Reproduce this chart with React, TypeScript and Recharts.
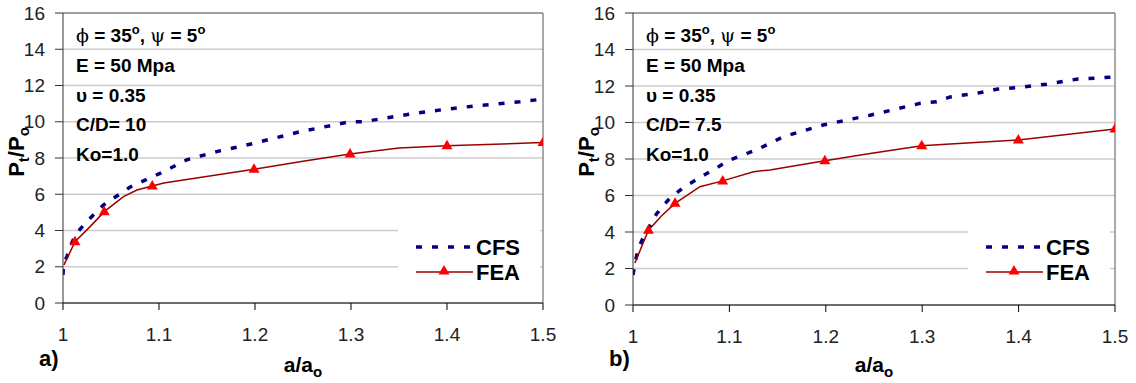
import React from "react";
import { LineChart, Line, XAxis, YAxis, CartesianGrid, ReferenceLine, Legend } from "recharts";

// x ticks (a/ao) and y ticks (Pt/Po)
const xTicks = [1, 1.1, 1.2, 1.3, 1.4, 1.5];
const yTicks = [0, 2, 4, 6, 8, 10, 12, 14, 16];

// panel a) C/D = 10
const cfsAX = [1.0, 1.0005, 1.004, 1.009, 1.014, 1.025, 1.042, 1.07, 1.101, 1.129, 1.16, 1.198, 1.247, 1.299, 1.313, 1.33, 1.365, 1.4, 1.434, 1.476, 1.5];
const cfsAY = [1.55, 2.2, 2.55, 3.3, 3.85, 4.5, 5.4, 6.4, 7.15, 7.9, 8.35, 8.8, 9.45, 10.0, 10.0, 10.15, 10.45, 10.7, 10.9, 11.1, 11.25];
const feaAX = [1.001, 1.0125, 1.028, 1.043, 1.063, 1.077, 1.093, 1.105, 1.199, 1.25, 1.299, 1.35, 1.4, 1.5];
const feaAY = [2.1, 3.38, 4.2, 5.04, 5.87, 6.23, 6.45, 6.62, 7.38, 7.82, 8.22, 8.55, 8.68, 8.85];
const feaAMarks = [1.0125, 1.043, 1.093, 1.199, 1.299, 1.4, 1.5];

// panel b) C/D = 7.5
const cfsBX = [1.0, 1.002, 1.0055, 1.011, 1.0245, 1.038, 1.054, 1.0765, 1.1006, 1.128, 1.156, 1.197, 1.246, 1.298, 1.315, 1.329, 1.3565, 1.377, 1.4015, 1.429, 1.46, 1.5];
const cfsBY = [1.64, 2.28, 3.1, 3.74, 5.0, 5.85, 6.5, 7.2, 7.95, 8.5, 9.22, 9.86, 10.4, 11.05, 11.14, 11.4, 11.6, 11.82, 11.93, 12.1, 12.37, 12.5];
const feaBX = [1.002, 1.016, 1.03, 1.0436, 1.0695, 1.093, 1.125, 1.142, 1.199, 1.246, 1.2995, 1.329, 1.3997, 1.5];
const feaBY = [2.3, 4.1, 4.9, 5.57, 6.48, 6.8, 7.3, 7.4, 7.9, 8.3, 8.73, 8.82, 9.04, 9.64];
const feaBMarks = [1.016, 1.0436, 1.093, 1.199, 1.2995, 1.3997, 1.5];

const zip = (xs: number[], ys: number[]) => xs.map((x, i) => ({ x, y: ys[i] }));

const FONT = "'Liberation Sans', Arial, sans-serif";
const NAVY = "#000080";
const DARKRED = "#990000";
const RED = "#ff0000";

const Triangle = ({ cx, cy, fill }: { cx: number; cy: number; fill: string }) => (
  <polygon points={`${cx},${cy - 6} ${cx - 5.5},${cy + 3.5} ${cx + 5.5},${cy + 3.5}`} fill={fill} />
);

const LegendBox = () => (
  <svg width={142} height={66}>
    <line x1={18} y1={21} x2={75} y2={21} stroke={NAVY} strokeWidth={3.5} strokeDasharray="6 10" />
    <text x={78} y={29} fontFamily={FONT} fontWeight="bold" fontSize={22} fill="#000">CFS</text>
    <line x1={18} y1={46} x2={75} y2={46} stroke={DARKRED} strokeWidth={1.5} />
    <Triangle cx={46} cy={45} fill={RED} />
    <text x={78} y={54} fontFamily={FONT} fontWeight="bold" fontSize={22} fill="#000">FEA</text>
  </svg>
);

interface PanelProps {
  left: number;
  width: number;
  rightMargin: number;
  bottomMargin: number;
  tag: string;
  cd: string;
  cfs: { x: number; y: number }[];
  fea: { x: number; y: number }[];
  marks: number[];
}

function Panel({ left, width, rightMargin, bottomMargin, tag, cd, cfs, fea, marks }: PanelProps) {
  const plotLeft = 63;
  const plotRight = width - rightMargin;
  const midX = (plotLeft + plotRight) / 2;
  const notes = ["E = 50 Mpa", "\u03c5 = 0.35", `C/D= ${cd}`, "Ko=1.0"];
  return (
    <div style={{ position: "absolute", left, top: 0, width, height: 383 }}>
      <LineChart width={width} height={383} margin={{ top: 13, right: rightMargin, left: 13, bottom: bottomMargin }}>
        <CartesianGrid vertical={false} stroke="#cccccc" strokeWidth={1.5} />
        <XAxis
          dataKey="x"
          type="number"
          domain={[1, 1.5]}
          ticks={xTicks}
          allowDataOverflow
          height={50}
          tickSize={7}
          tickMargin={18}
          stroke="#000"
          tick={{ fontSize: 19, fill: "#222", fontFamily: FONT }}
        />
        <YAxis
          type="number"
          domain={[0, 16]}
          ticks={yTicks}
          width={50}
          tickSize={8}
          tickMargin={10}
          stroke="#333"
          tick={{ fontSize: 19, fill: "#222", fontFamily: FONT }}
        />
        <ReferenceLine y={16} stroke="#8c8c8c" strokeWidth={1.5} />
        <ReferenceLine x={1.5} stroke="#8c8c8c" strokeWidth={1.5} />
        <Line
          data={cfs}
          dataKey="y"
          type="linear"
          stroke={NAVY}
          strokeWidth={3.5}
          strokeDasharray="6 10"
          dot={false}
          isAnimationActive={false}
        />
        <Line
          data={fea}
          dataKey="y"
          type="linear"
          stroke={DARKRED}
          strokeWidth={1.5}
          dot={(p: any) =>
            marks.includes(p.payload.x) ? <Triangle key={p.index} cx={p.cx} cy={p.cy} fill={RED} /> : <g key={p.index} />
          }
          isAnimationActive={false}
        />
        <Legend
          layout="vertical"
          align="center"
          verticalAlign="middle"
          content={() => <LegendBox />}
          wrapperStyle={{ left: 335 + plotLeft, top: 226, width: 142, height: 66, background: "#fff" }}
        />
      </LineChart>
      <svg width={width} height={383} style={{ position: "absolute", left: 0, top: 0, pointerEvents: "none" }}>
        <g fontFamily={FONT} fontWeight="bold" fill="#000">
          <text x={76} y={42} fontSize={19}>
            <tspan fontFamily="'DejaVu Serif', serif" fontWeight="normal">{"\u03d5"}</tspan>
            <tspan> = 35</tspan>
            <tspan fontSize={13} dy={-8}>o</tspan>
            <tspan dy={8}>, </tspan>
            <tspan fontFamily="'DejaVu Serif', serif" fontWeight="normal">{"\u03c8"}</tspan>
            <tspan> = 5</tspan>
            <tspan fontSize={13} dy={-8}>o</tspan>
          </text>
          {notes.map((t, i) => (
            <text key={t} x={76} y={72 + i * 29.5} fontSize={19}>{t}</text>
          ))}
          <text x={39} y={366} fontSize={22}>{tag}</text>
          <text x={midX} y={372} fontSize={21} textAnchor="middle">
            a/a<tspan fontSize={15} dy={5}>o</tspan>
          </text>
          <text transform="translate(24,152) rotate(-90)" fontSize={22} textAnchor="middle">
            P<tspan fontSize={15} dy={5}>t</tspan>
            <tspan dy={-5}>/P</tspan>
            <tspan fontSize={15} dy={5}>o</tspan>
          </text>
        </g>
      </svg>
    </div>
  );
}

export default function App() {
  return (
    <div style={{ position: "absolute", left: 0, top: 0, width: 1136, height: 383, background: "#fff" }}>
      <Panel left={0} width={570} rightMargin={27} bottomMargin={30} tag="a)" cd="10" cfs={zip(cfsAX, cfsAY)} fea={zip(feaAX, feaAY)} marks={feaAMarks} />
      <Panel left={570} width={566} rightMargin={21} bottomMargin={28} tag="b)" cd="7.5" cfs={zip(cfsBX, cfsBY)} fea={zip(feaBX, feaBY)} marks={feaBMarks} />
    </div>
  );
}
